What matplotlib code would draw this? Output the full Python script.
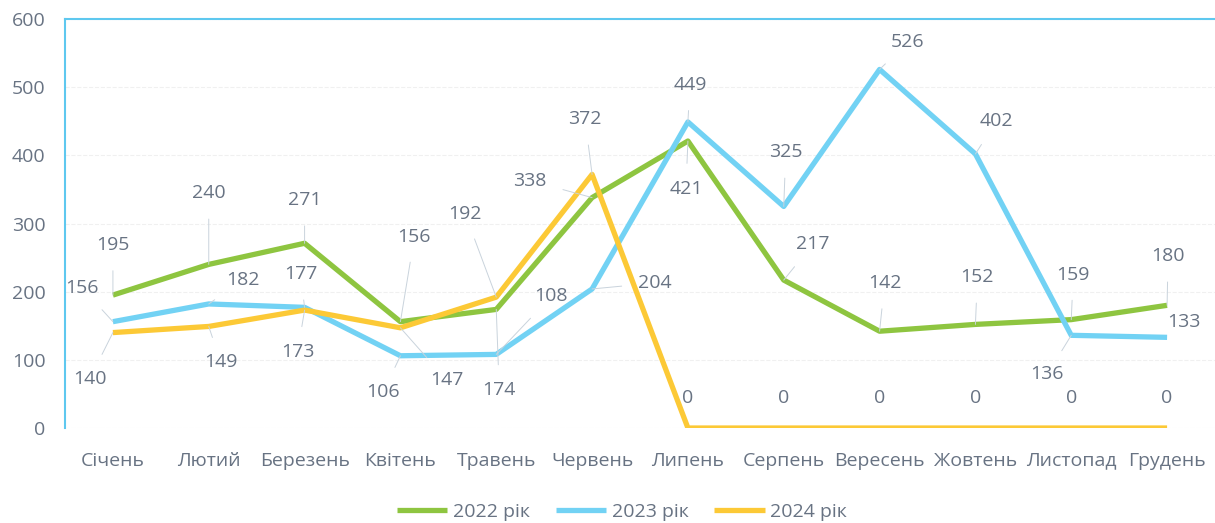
import matplotlib
matplotlib.use("Agg")
import matplotlib.pyplot as plt

# Дані
months = ["Січень", "Лютий", "Березень", "Квітень", "Травень", "Червень",
          "Липень", "Серпень", "Вересень", "Жовтень", "Листопад", "Грудень"]
y2022 = [195, 240, 271, 156, 174, 338, 421, 217, 142, 152, 159, 180]
y2023 = [156, 182, 177, 106, 108, 204, 449, 325, 526, 402, 136, 133]
y2024 = [140, 149, 173, 147, 192, 372, 0, 0, 0, 0, 0, 0]
labels = ["2022 рік", "2023 рік", "2024 рік"]

colors = ["#8ec540", "#72d2f4", "#fcc936"]
txt_color = "#687383"

# зсуви підписів (пікселі: вправо, вгору)
off2022 = [(0, 50), (0, 71), (0, 43), (14, 85), (3, -81), (-62, 17),
           (-2, -48), (29, 36), (5, 48), (2, 47), (2, 45), (1, 49)]
off2023 = [(-31, 34), (34, 24), (-4, 33), (-17, -36), (55, 58), (63, 6),
           (2, 37), (2, 54), (28, 27), (21, 33), (-24, -39), (17, 15)]
off2024 = [(-23, -46), (12, -36), (-7, -42), (46, -52), (-31, 83), (-7, 55),
           (0, 30), (0, 30), (0, 30), (0, 30), (0, 30), (0, 30)]

plt.rcParams["font.family"] = ["Open Sans", "DejaVu Sans"]
fs = 14

fig = plt.figure(figsize=(12.15, 5.23), dpi=100)
ax = fig.add_axes([0.0535, 0.1816, 0.9465, 0.7821])

x = list(range(len(months)))
series = [y2022, y2023, y2024]
offsets = [off2022, off2023, off2024]
for vals, col, lab in zip(series, colors, labels):
    ax.plot(x, vals, color=col, linewidth=3.8, label=lab, solid_capstyle="butt", zorder=3)

for vals, offs in zip(series, offsets):
    for xi, v, (dx, dy) in zip(x, vals, offs):
        far = (dx * dx + dy * dy) ** 0.5 > 32
        ax.annotate(str(v), xy=(xi, v), xytext=(dx * 0.72, dy * 0.72),
                    textcoords="offset points", ha="center", va="center",
                    fontsize=fs, color=txt_color, zorder=4,
                    arrowprops=dict(arrowstyle="-", color="#c9d3dc", lw=0.7,
                                    shrinkA=10, shrinkB=0) if far else None)

ax.set_xlim(-0.5, 11.5)
ax.set_ylim(0, 600)
ax.set_yticks(range(0, 601, 100))
ax.set_xticks(x)
ax.set_xticklabels(months)
ax.tick_params(axis="both", length=0, labelsize=fs, labelcolor=txt_color)
ax.tick_params(axis="x", pad=17)
ax.tick_params(axis="y", pad=14)
ax.grid(axis="y", color="#f0f0f0", linewidth=0.8, linestyle="--")
ax.set_axisbelow(True)

for side in ["right", "bottom"]:
    ax.spines[side].set_visible(False)
for side in ["left", "top"]:
    ax.spines[side].set_color("#5ec8ef")
    ax.spines[side].set_linewidth(1.5)

leg = fig.legend(loc="center", bbox_to_anchor=(0.512, 0.021), ncol=3, frameon=False,
                 fontsize=fs, handlelength=2.6, columnspacing=1.3, handletextpad=0.3)
for t in leg.get_texts():
    t.set_color(txt_color)

fig.savefig("out.png", dpi=100)
